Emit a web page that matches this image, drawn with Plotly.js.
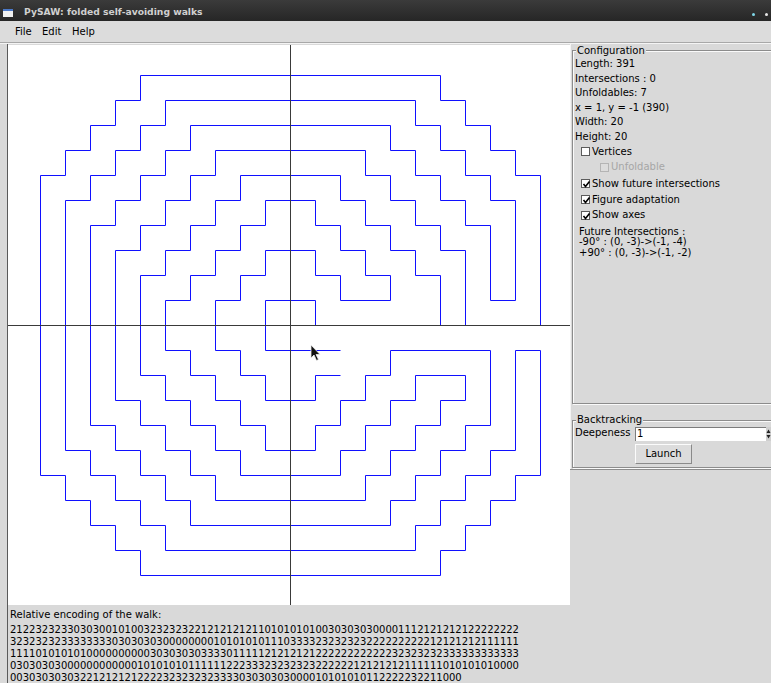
<!DOCTYPE html>
<html>
<head>
<meta charset="utf-8">
<script src="https://cdn.plot.ly/plotly-3.0.1.min.js"></script>
<style>
html,body{margin:0;padding:0;}
body{width:771px;height:683px;overflow:hidden;background:#d9d9d9;font-family:"DejaVu Sans",sans-serif;font-size:10px;color:#000;position:relative;}
.a{position:absolute;white-space:pre;line-height:12px;}
#titlebar{left:0;top:0;width:771px;height:21px;background:linear-gradient(#3b3b3b,#262626);}
#title{left:24px;top:6px;color:#d0d0d0;font-weight:bold;font-size:9.2px;}
#icon{left:3px;top:9px;width:10px;height:8px;background:#f0f0f0;border-top:2px solid #4a78c8;box-sizing:border-box;}
.dot{width:3px;height:3px;border-radius:2px;top:13px;}
#menubar{left:0;top:21px;width:771px;height:21px;background:#dcdcdc;}
#menusep{left:0;top:42px;width:771px;height:1px;background:#a8a8a8;}
#menusep2{left:0;top:43px;width:771px;height:1px;background:#f4f4f4;}
#leftline{left:7px;top:44px;width:1px;height:639px;background:#5a5a5a;}
#plot{left:8px;top:45px;width:562px;height:560px;background:#fff;}
.frame{position:absolute;border:1px solid #8c8c8c;box-shadow:inset 1px 1px 0 #fafafa,1px 1px 0 #fafafa;}
.lbl{background:#d9d9d9;padding:0 1px;}
.cb{position:absolute;width:9px;height:9px;background:#fff;border:1px solid #5c5c5c;box-sizing:border-box;}
.cb svg{position:absolute;left:0;top:0;}
.dis{color:#a6a6a6;}
#entry{left:635px;top:427px;width:132px;height:14px;background:#fff;border-top:1px solid #7c7c7c;border-left:1px solid #7c7c7c;box-sizing:border-box;}
#btn{left:635px;top:444px;width:57px;height:20px;background:#dcdcdc;border-top:1px solid #fbfbfb;border-left:1px solid #fbfbfb;border-right:1px solid #8a8a8a;border-bottom:1px solid #8a8a8a;box-sizing:border-box;text-align:center;line-height:18px;}
#cursor{left:310px;top:344px;}
</style>
</head>
<body>
<div id="titlebar" class="a"></div>
<div id="icon" class="a"></div>
<div id="title" class="a">PySAW: folded self-avoiding walks</div>
<div class="a dot" style="left:752px;background:#7fd7e8;"></div>
<div class="a dot" style="left:765px;background:#e8e8e8;"></div>
<div id="menubar" class="a"></div>
<div class="a" style="left:15px;top:26px;">File</div>
<div class="a" style="left:42px;top:26px;">Edit</div>
<div class="a" style="left:72px;top:26px;">Help</div>
<div id="menusep" class="a"></div>
<div id="menusep2" class="a"></div>
<div id="leftline" class="a"></div>
<div id="plot" class="a"></div>

<div class="a" style="left:570px;top:44px;width:1px;height:426px;background:#f4f4f4;"></div>
<div class="a" style="left:570px;top:469px;width:201px;height:1px;background:#8c8c8c;"></div>
<div class="frame" style="left:572px;top:50px;width:210px;height:352px;"></div>
<div class="a lbl" style="left:576px;top:45px;">Configuration</div>
<div id="cfg"></div>

<div class="frame" style="left:572px;top:420px;width:210px;height:46px;"></div>
<div class="a lbl" style="left:576px;top:414px;">Backtracking</div>
<div class="a" style="left:575px;top:427px;">Deepeness</div>
<div id="entry" class="a"></div>
<div class="a" style="left:637px;top:428px;">1</div>
<div class="a" style="left:766px;top:427px;width:6px;height:14px;background:#cfcfcf;"></div>
<svg class="a" style="left:766px;top:428px;" width="5" height="12"><path d="M0.5 5 L2.5 1.5 L4.5 5 Z M0.5 7 L2.5 10.5 L4.5 7 Z" fill="#222"/></svg>
<div id="btn" class="a">Launch</div>

<div id="enc"></div>

<svg id="cursor" class="a" width="12" height="18" style="z-index:5;"><path d="M1 1 L1 14 L4 11 L6.5 16.5 L8.5 15.5 L6 10.5 L10 10.5 Z" fill="#111" stroke="#eee" stroke-width="0.8"/></svg>

<script>
// Walk corner vertices (grid units), in walk order
const walkX = [
  2,1,1,-1,-1,-2,-2,-3,-3,-2,
  -2,-1,-1,1,1,2,2,4,4,3,
  3,2,2,1,1,-1,-1,-2,-2,-3,
  -3,-4,-4,-5,-5,-4,-4,-3,-3,-2,
  -2,-1,-1,1,1,2,2,3,3,4,
  4,8,8,7,7,6,6,5,5,4,
  4,-4,-4,-5,-5,-6,-6,-7,-7,-8,
  -8,-7,-7,-6,-6,-5,-5,-4,-4,4,
  4,5,5,6,6,7,7,8,8,9,
  9,8,8,7,7,6,6,5,5,-5,
  -5,-6,-6,-7,-7,-8,-8,-9,-9,-8,
  -8,-7,-7,-6,-6,-5,-5,5,5,6,
  6,7,7,8,8,9,9,10,10,9,
  9,8,8,7,7,6,6,-6,-6,-7,
  -7,-8,-8,-9,-9,-10,-10,-9,-9,-8,
  -8,-7,-7,-6,-6,6,6,7,7,8,
  8,9,9,10,10,7,7,6,6,5,
  5,4,4,3,3,-3,-3,-4,-4,-5,
  -5,-6,-6,-7,-7,-6,-6,-5,-5,-4,
  -4,-3,-3,3,3,4,4,5,5,6,
  6,7,7,5,5,4,4,3,3,2,
  2,-2,-2,-3,-3,-4,-4,-5,-5,-6,
  -6,-5,-5,-4,-4,-3,-3,-2,-2,2,
  2,3,3,4,4,5,5,6,6,1,
  1,-1,-1,2
];
const walkY = [
  -2,-2,-3,-3,-2,-2,-1,-1,1,1,
  2,2,3,3,2,2,1,1,2,2,
  3,3,4,4,5,5,4,4,3,3,
  2,2,1,1,-1,-1,-2,-2,-3,-3,
  -4,-4,-5,-5,-4,-4,-3,-3,-2,-2,
  -1,-1,-4,-4,-5,-5,-6,-6,-7,-7,
  -8,-8,-7,-7,-6,-6,-5,-5,-4,-4,
  4,4,5,5,6,6,7,7,8,8,
  7,7,6,6,5,5,4,4,1,1,
  5,5,6,6,7,7,8,8,9,9,
  8,8,7,7,6,6,5,5,-5,-5,
  -6,-6,-7,-7,-8,-8,-9,-9,-8,-8,
  -7,-7,-6,-6,-5,-5,-1,-1,-6,-6,
  -7,-7,-8,-8,-9,-9,-10,-10,-9,-9,
  -8,-8,-7,-7,-6,-6,6,6,7,7,
  8,8,9,9,10,10,9,9,8,8,
  7,7,6,6,0,0,3,3,4,4,
  5,5,6,6,7,7,6,6,5,5,
  4,4,3,3,-3,-3,-4,-4,-5,-5,
  -6,-6,-7,-7,-6,-6,-5,-5,-4,-4,
  -3,-3,-2,-2,-3,-3,-4,-4,-5,-5,
  -6,-6,-5,-5,-4,-4,-3,-3,-2,-2,
  2,2,3,3,4,4,5,5,6,6,
  5,5,4,4,3,3,2,2,0,0,
  1,1,-1,-1
];

// Texts of the window
const configLines = ["Length: 391", "Intersections : 0", "Unfoldables: 7", "x = 1, y = -1 (390)", "Width: 20", "Height: 20"];
const checkLabels = ["Vertices", "Unfoldable", "Show future intersections", "Figure adaptation", "Show axes"];
const checkStates = [false, false, true, true, true];
const futureLines = ["Future Intersections :", "-90\u00b0 : (0, -3)->(-1, -4)", "+90\u00b0 : (0, -3)->(-1, -2)"];
const encodingTitle = "Relative encoding of the walk:";
const encodingLines = [
  "2122323233" + "0303001010" + "0323232322" + "1212121211" + "0101010100" + "3030303000" + "0111212121" + "2122222222",
  "3232323233" + "3333330303" + "0303000000" + "0010101010" + "1110333323" + "2323232222" + "2222221212" + "1212111111",
  "1111010101" + "0100000000" + "0030303030" + "3333011111" + "2121212122" + "2222222222" + "3232323233" + "3333333333",
  "0303030300" + "0000000000" + "1010101011" + "1111222333" + "2323232322" + "2222121212" + "1211111101" + "0101010000",
  "0030303030" + "3221212121" + "2222323232" + "3233330303" + "0303000010" + "1010101122" + "2223221100" + "0"
];

// ---- right panel texts
const cfg = document.getElementById('cfg');
const cfgCenters = [64.3, 78.7, 93.3, 107.7, 121.7, 136.7];
configLines.forEach((t, i) => {
  const d = document.createElement('div');
  d.className = 'a'; d.textContent = t;
  d.style.left = '575px'; d.style.top = (cfgCenters[i] - 6) + 'px';
  cfg.appendChild(d);
});
const cbCenters = [151.7, 167.3, 183.7, 199.7, 215.3];
const cbLeft = [581, 600, 581, 581, 581];
checkLabels.forEach((t, i) => {
  const b = document.createElement('div');
  b.className = 'cb';
  b.style.left = cbLeft[i] + 'px'; b.style.top = Math.round(cbCenters[i] - 4.5) + 'px';
  if (i === 1) { b.style.borderColor = '#b4b4b4'; b.style.background = '#dcdcdc'; }
  if (checkStates[i]) {
    b.innerHTML = '<svg width="9" height="9"><path d="M1.5 4 L3.5 6.5 L7.5 1.5" stroke="#000" stroke-width="1.6" fill="none"/></svg>';
  }
  cfg.appendChild(b);
  const d = document.createElement('div');
  d.className = 'a' + (i === 1 ? ' dis' : '');
  d.textContent = t;
  d.style.left = (cbLeft[i] + 11) + 'px'; d.style.top = (cbCenters[i] - 6) + 'px';
  cfg.appendChild(d);
});
const futCenters = [231.7, 242.3, 252.7];
futureLines.forEach((t, i) => {
  const d = document.createElement('div');
  d.className = 'a'; d.textContent = t;
  d.style.left = '579px'; d.style.top = (futCenters[i] - 6) + 'px';
  cfg.appendChild(d);
});

// ---- encoding text
const enc = document.getElementById('enc');
const et = document.createElement('div');
et.className = 'a'; et.textContent = encodingTitle;
et.style.left = '10px'; et.style.top = (614.5 - 6) + 'px';
enc.appendChild(et);
encodingLines.forEach((t, i) => {
  const d = document.createElement('div');
  d.className = 'a'; d.textContent = t;
  d.style.left = '10px'; d.style.top = (630 + 12 * i - 6) + 'px';
  enc.appendChild(d);
});

// ---- the walk
const walk = {
  x: walkX, y: walkY, type: 'scatter', mode: 'lines',
  line: {color: '#1010ff', width: 1}, hoverinfo: 'skip'
};
const ax = {showgrid: false, zeroline: false, showticklabels: false, ticks: '', showline: false, fixedrange: true};
const layout = {
  width: 562, height: 560,
  margin: {l: 0, r: 0, t: 0, b: 0, pad: 0},
  paper_bgcolor: '#ffffff', plot_bgcolor: '#ffffff',
  showlegend: false,
  xaxis: Object.assign({range: [-11.3, 11.18]}, ax),
  yaxis: Object.assign({range: [-11.18, 11.22]}, ax),
  shapes: [
    {type: 'line', xref: 'paper', x0: 0, x1: 1, yref: 'y', y0: 0, y1: 0, layer: 'above', line: {color: '#3a3a3a', width: 1}},
    {type: 'line', xref: 'x', x0: 0, x1: 0, yref: 'paper', y0: 0, y1: 1, layer: 'above', line: {color: '#3a3a3a', width: 1}}
  ]
};
Plotly.newPlot('plot', [walk], layout, {staticPlot: true, displayModeBar: false});
</script>
</body>
</html>
